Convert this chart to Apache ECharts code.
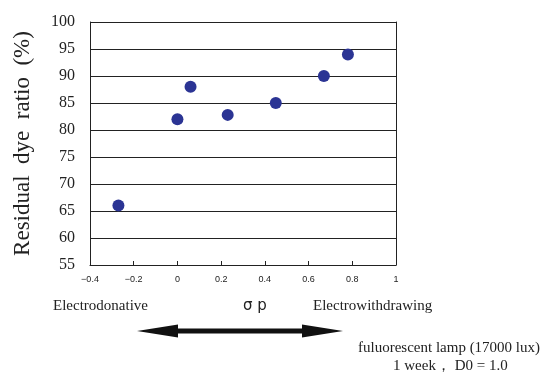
<!DOCTYPE html>
<html>
<head>
<meta charset="utf-8">
<script src="https://cdn.jsdelivr.net/npm/echarts@6/dist/echarts.min.js"></script>
<style>
html, body { margin: 0; padding: 0; background: #fff; }
#main { width: 545px; height: 375px; }
</style>
</head>
<body>
<div id="main"></div>
<script>
// sigma p values and residual dye ratio (%)
var sigmaP = [-0.27, 0, 0.06, 0.23, 0.45, 0.67, 0.78];
var residual = [66, 82, 88, 82.8, 85, 90, 94];
var xTicks = [-0.4, -0.2, 0, 0.2, 0.4, 0.6, 0.8, 1];
var yTicks = [55, 60, 65, 70, 75, 80, 85, 90, 95, 100];

var points = [];
for (var i = 0; i < sigmaP.length; i++) {
	points.push([sigmaP[i], residual[i]]);
}

var serif = '"Liberation Serif", "DejaVu Serif", serif';
var myChart = echarts.init(document.getElementById('main'));
myChart.setOption({
	animation: false,
	grid: { left: 90, right: 149, top: 22, bottom: 110 },
	xAxis: {
		type: 'value',
		min: xTicks[0],
		max: xTicks[xTicks.length - 1],
		interval: 0.2,
		axisLine: { show: true, onZero: false, lineStyle: { color: '#222', width: 1 } },
		axisTick: { show: true, inside: true, length: 4, lineStyle: { color: '#222' } },
		axisLabel: {
			color: '#222', fontSize: 9, margin: 10,
			fontFamily: '"Liberation Sans", Arial, sans-serif',
			formatter: function (v) { return String(Math.round(v * 10) / 10).replace('-', '\u2212'); }
		},
		splitLine: { show: false }
	},
	yAxis: [{
		type: 'value',
		min: yTicks[0],
		max: yTicks[yTicks.length - 1],
		interval: 5,
		name: 'Residual  dye  ratio  (%)',
		nameLocation: 'middle',
		nameGap: 56,
		nameTextStyle: { fontFamily: serif, fontSize: 23, color: '#222' },
		axisLine: { show: true, onZero: false, lineStyle: { color: '#222', width: 1 } },
		axisTick: { show: false },
		axisLabel: { color: '#222', fontSize: 16, fontFamily: serif, margin: 15 },
		splitLine: { show: true, lineStyle: { color: '#222', width: 1 } }
	}, {
		type: 'value',
		min: yTicks[0],
		max: yTicks[yTicks.length - 1],
		interval: 5,
		position: 'right',
		axisLine: { show: true, onZero: false, lineStyle: { color: '#222', width: 1 } },
		axisTick: { show: false },
		axisLabel: { show: false },
		splitLine: { show: false }
	}],
	graphic: [
		{ type: 'text', left: 53, top: 299, style: { text: 'Electrodonative', font: '15px ' + serif, fill: '#222' } },
		{ type: 'text', left: 243, top: 299, style: { text: '\u03C3 p', font: '15px "DejaVu Sans", sans-serif', fill: '#222' } },
		{ type: 'text', left: 313, top: 299, style: { text: 'Electrowithdrawing', font: '15px ' + serif, fill: '#222' } },
		{
			type: 'polygon',
			shape: { points: [[137, 331], [178, 324.5], [178, 328.5], [302, 328.5], [302, 324.5], [343, 331], [302, 337.5], [302, 333.5], [178, 333.5], [178, 337.5]] },
			style: { fill: '#111' }
		},
		{ type: 'text', left: 358, top: 341, style: { text: 'fuluorescent lamp (17000 lux)', font: '15px ' + serif, fill: '#222' } },
		{ type: 'text', left: 393, top: 359, style: { text: '1 week\uFF0C D0 = 1.0', font: '15px ' + serif, fill: '#222' } }
	],
	series: [{
		type: 'scatter',
		data: points,
		symbolSize: 12,
		itemStyle: { color: '#2b3494', opacity: 1 }
	}]
});
</script>
</body>
</html>
